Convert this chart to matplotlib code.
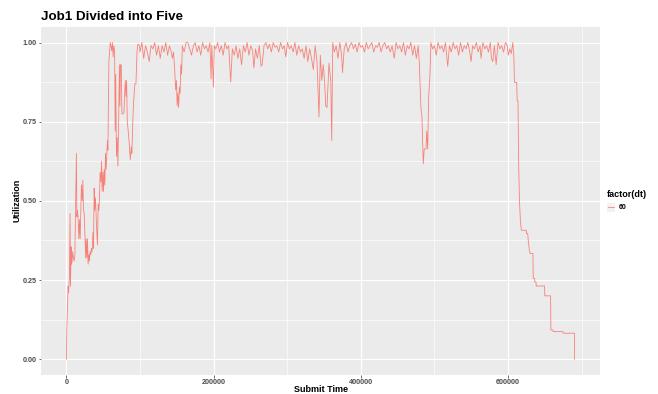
import matplotlib
matplotlib.use("Agg")
import matplotlib.pyplot as plt
from matplotlib.patches import Rectangle
from matplotlib.lines import Line2D

plt.rcParams['font.family'] = ['Liberation Sans', 'DejaVu Sans']

# ---------------- data ----------------
title = "Job1 Divided into Five"
x_label = "Submit Time"
y_label = "Utilization"
legend_title = "factor(dt)"
dt_level = "60"

x_ticks = [0, 200000, 400000, 600000]
x_tick_labels = ["0", "200000", "400000", "600000"]
y_ticks = [0.0, 0.25, 0.5, 0.75, 1.0]
y_tick_labels = ["0.00", "0.25", "0.50", "0.75", "1.00"]

# ramp-up phase
ramp_time = [0, 500, 1500, 2300, 3000, 4100, 5000, 5500, 6400, 7000, 7800, 8500,
             9500, 10500, 11500, 13200, 13600, 14200, 15000, 16000, 16900, 17800,
             18700, 19500, 20400, 21500, 22300, 23200, 24200, 25000, 26200, 26800,
             27800, 28600, 29500, 30500, 31300, 32200, 33200, 34000, 35000, 36000,
             36800, 37700, 38500, 39500, 40500, 41300, 42200, 43200, 44100, 45000,
             45800, 46800, 47800, 48600, 49600, 50400, 51300, 52200, 53100, 54000,
             55000, 55700, 56400, 57000, 57700, 58600, 59500]
ramp_util = [0.0, 0.09, 0.17, 0.23, 0.21, 0.26, 0.46, 0.23, 0.355, 0.30, 0.31, 0.34,
             0.32, 0.31, 0.33, 0.58, 0.65, 0.45, 0.47, 0.44, 0.38, 0.44,
             0.38, 0.46, 0.55, 0.50, 0.565, 0.47, 0.46, 0.40, 0.32, 0.38,
             0.32, 0.38, 0.30, 0.33, 0.31, 0.34, 0.33, 0.35, 0.34, 0.40,
             0.35, 0.54, 0.47, 0.51, 0.45, 0.40, 0.36, 0.49, 0.47, 0.51,
             0.59, 0.56, 0.625, 0.53, 0.59, 0.53, 0.60, 0.55, 0.65, 0.60,
             0.65, 0.69, 0.66, 0.80, 0.94, 0.97, 1.0]

# first dip after reaching full utilisation
dip1_time = [60500, 61500, 62500, 63500, 64500, 65500, 66300, 67000, 68000, 69000,
             70000, 71000, 72000, 72700, 73500, 74500, 75400, 77000, 78200, 79000,
             80000, 80900, 81800, 82700, 84000, 85400, 86800, 88100, 89000, 89900,
             91000, 91800, 93000, 94500, 95900, 97200]
dip1_util = [0.99, 0.974, 1.0, 0.955, 0.99, 0.975, 0.72, 0.90, 0.64, 0.70,
             0.61, 0.75, 0.93, 0.80, 0.93, 0.93, 0.775, 0.775, 0.78, 0.83,
             0.88, 0.83, 0.88, 0.75, 0.72, 0.68, 0.63, 0.67, 0.65, 0.73,
             0.80, 0.83, 0.87, 0.87, 0.97, 0.995]

# long plateau
plateau_time = [99500, 100000, 102500, 105000, 107500, 110000, 112500, 115000, 117500,
                120000, 122500, 125000, 127500, 130000, 132500, 135000, 137500, 140000,
                142500, 144000, 145500, 147000, 148500, 149500, 150500, 151500, 152500,
                153500, 154500, 155500, 156500, 157500, 160000, 162500,
                165000, 167500, 170000, 172500, 175000, 177500, 180000, 182500, 185000,
                187500, 190000, 192500, 195000, 196500, 197500, 199700, 201000, 203000,
                205500, 208000, 210500, 213000, 215500, 218000, 220500, 223200, 225500,
                228000, 230500, 233000, 235500, 238000, 240500, 243000, 245500, 248000,
                250500, 253000, 254700, 257000, 259500, 262000, 264500, 266000, 268500,
                271000, 273500, 276000, 278500, 281000, 283500, 286000, 288500, 291000,
                293500, 296000, 298000, 300500, 303000, 305500, 308000, 310500, 313000,
                315500, 318000, 320500, 323000, 325500, 328000, 330500, 333000, 335500,
                338000, 340500, 343200, 345000, 347000, 349000, 351000, 352300, 354100,
                356800, 359200, 360500, 361900, 364000, 366500, 369000, 371500, 374000,
                375100, 377500, 380000, 382500, 385000, 387500, 390000, 392500, 395000,
                397500, 400000, 402500, 405000, 407500, 410000, 412500, 415000, 417500,
                420000, 422500, 425000, 427500, 430000, 432500, 435000, 437500, 440000,
                442500, 445400, 448000, 450500, 453000, 455500, 458000, 460500, 463000,
                465500, 468000, 470500, 473000, 475500, 478000]
plateau_util = [0.99, 0.97, 1.0, 0.95, 0.99, 0.97, 0.94, 0.99, 0.98,
                1.0, 0.96, 0.99, 0.95, 0.99, 0.97, 1.0, 0.96, 0.99,
                0.97, 0.95, 0.97, 0.92, 0.85, 0.88, 0.80, 0.84, 0.795,
                0.86, 0.84, 0.93, 0.90, 0.99, 0.97, 1.0,
                1.0, 0.98, 0.96, 0.99, 1.0, 0.97, 0.99, 0.96, 1.0,
                0.98, 0.99, 0.97, 1.0, 0.885, 0.99, 0.86, 0.99, 0.98,
                1.0, 0.97, 0.99, 0.96, 1.0, 0.98, 0.99, 0.875, 0.98,
                0.96, 0.99, 0.95, 0.98, 0.93, 0.99, 0.97, 1.0, 0.96,
                0.99, 0.975, 0.92, 0.98, 0.95, 0.99, 0.925, 0.93, 0.99,
                1.0, 0.98, 0.995, 0.97, 1.0, 0.985, 0.99, 0.97, 1.0,
                0.98, 0.99, 0.955, 1.0, 0.98, 0.99, 0.97, 1.0, 0.96,
                0.99, 0.97, 0.98, 0.95, 0.99, 0.94, 0.98, 0.95, 0.915,
                0.99, 0.94, 0.765, 0.96, 0.88, 0.93, 0.87, 0.80, 0.795,
                0.935, 0.88, 0.69, 1.0, 0.97, 0.99, 0.95, 1.0, 0.96,
                0.905, 0.98, 1.0, 0.97, 0.99, 1.0, 0.98, 0.995, 0.97,
                1.0, 0.985, 0.99, 0.97, 1.0, 0.98, 0.99, 1.0, 0.97,
                0.99, 0.985, 1.0, 0.97, 0.99, 1.0, 0.98, 0.99, 0.97,
                0.99, 0.95, 1.0, 0.98, 0.99, 0.97, 1.0, 0.96, 0.99,
                0.98, 1.0, 0.96, 0.99, 0.95, 0.99]

# second dip and last plateau
dip2_time = [479400, 481700, 483100, 484900, 486200, 488600, 489500, 490900, 492200,
             494000, 495300, 497500, 500000, 502500, 505000, 507500, 510000, 512500,
             515000, 518100, 520500, 523000, 525500, 528000, 530500, 533000, 535500,
             538000, 540500, 543000, 545500, 548000, 549800, 552000, 554500, 557000,
             559500, 562000, 563400, 566000, 568500, 571000, 573500, 576000, 577500,
             579400, 581500, 583900, 586500, 589000, 591500, 594000, 596500, 599000,
             600500, 602500, 604500, 606500, 608000]
dip2_util = [0.94, 0.795, 0.765, 0.617, 0.664, 0.664, 0.72, 0.664, 0.827,
             0.90, 1.0, 0.98, 0.99, 0.96, 1.0, 0.98, 0.99, 0.97,
             1.0, 0.925, 0.99, 0.97, 1.0, 0.98, 0.99, 0.96, 1.0,
             0.97, 0.99, 0.98, 1.0, 0.97, 0.94, 0.99, 0.98, 1.0,
             0.97, 0.99, 0.95, 1.0, 0.98, 0.99, 0.97, 1.0, 0.95,
             0.94, 0.99, 0.93, 1.0, 0.98, 0.99, 0.97, 1.0, 0.99,
             0.96, 0.98, 0.965, 1.0, 0.953]

# wind-down staircase
tail_time = [608800, 611800, 612500, 613600, 614500, 615600, 616800, 618000, 618500,
             624800, 625200, 626800, 627500, 629000, 630000, 633900, 634300, 636100,
             636500, 638000, 638400, 649700, 650000, 657900, 658300, 661100, 661500,
             674700, 675000, 690300, 690500]
tail_util = [0.874, 0.874, 0.816, 0.816, 0.62, 0.50, 0.44, 0.41, 0.407,
             0.407, 0.397, 0.397, 0.376, 0.344, 0.334, 0.334, 0.255, 0.255,
             0.244, 0.244, 0.231, 0.231, 0.200, 0.200, 0.092, 0.092, 0.087,
             0.087, 0.082, 0.082, 0.0]

submit_time = ramp_time + dip1_time + plateau_time + dip2_time + tail_time
utilization = ramp_util + dip1_util + plateau_util + dip2_util + tail_util

# ---------------- figure ----------------
W, H = 658, 394
fig = plt.figure(figsize=(W / 100, H / 100), dpi=100)
pl, pr, pt, pb = 41, 600, 26.7, 375
ax = fig.add_axes([pl / W, 1 - pb / H, (pr - pl) / W, (pb - pt) / H])

line_col = '#F8766D'
ax.plot(submit_time, utilization, color=line_col, lw=0.6, alpha=0.9, zorder=3)

ax.set_facecolor('#EBEBEB')
for s in ax.spines.values():
    s.set_visible(False)

xmin, xmax = min(submit_time), max(submit_time)
xr = xmax - xmin
ax.set_xlim(xmin - 0.05 * xr, xmax + 0.05 * xr)
ax.set_ylim(-0.05, 1.05)

ax.set_xticks(x_ticks)
ax.set_xticklabels(x_tick_labels)
ax.set_yticks(y_ticks)
ax.set_yticklabels(y_tick_labels)
ax.set_xticks([100000, 300000, 500000, 700000], minor=True)
ax.set_yticks([0.125, 0.375, 0.625, 0.875], minor=True)
ax.grid(True, which='major', color='white', lw=0.9, zorder=0)
ax.grid(True, which='minor', color='white', lw=0.45, zorder=0)
ax.set_axisbelow(True)

ax.tick_params(axis='both', which='major', length=1.8, width=0.5, color='#333333',
               labelsize=5.2, labelcolor='#4D4D4D', pad=1.2)
ax.tick_params(axis='both', which='minor', length=0)
for lab in ax.get_xticklabels() + ax.get_yticklabels():
    lab.set_fontweight('bold')

ax.set_xlabel(x_label, fontsize=6.5, fontweight='bold')
ax.set_ylabel(y_label, fontsize=6.5, fontweight='bold')
ax.xaxis.set_label_coords(0.5, -(385.0 - pb) / (pb - pt))
ax.yaxis.set_label_coords(-(pl - 21.5) / (pr - pl), 0.5)

fig.text(41 / W, 1 - 20 / H, title, fontsize=9.6, fontweight='bold',
         ha='left', va='baseline')

# legend (drawn manually to match ggplot layout)
fig.text(607 / W, 1 - 194.7 / H, legend_title, fontsize=6.5, fontweight='bold',
         ha='left', va='center')
fig.patches.append(Rectangle((607 / W, 1 - 211.5 / H), 8 / W, 8.5 / H,
                             transform=fig.transFigure, facecolor='#F2F2F2',
                             edgecolor='none'))
fig.lines.append(Line2D([608 / W, 614 / W], [1 - 207.3 / H, 1 - 207.3 / H],
                        transform=fig.transFigure, color=line_col, lw=0.6, alpha=0.9))
fig.text(619 / W, 1 - 207.3 / H, dt_level, fontsize=5, fontweight='bold',
         ha='left', va='center')

fig.savefig('out.png', dpi=100)
